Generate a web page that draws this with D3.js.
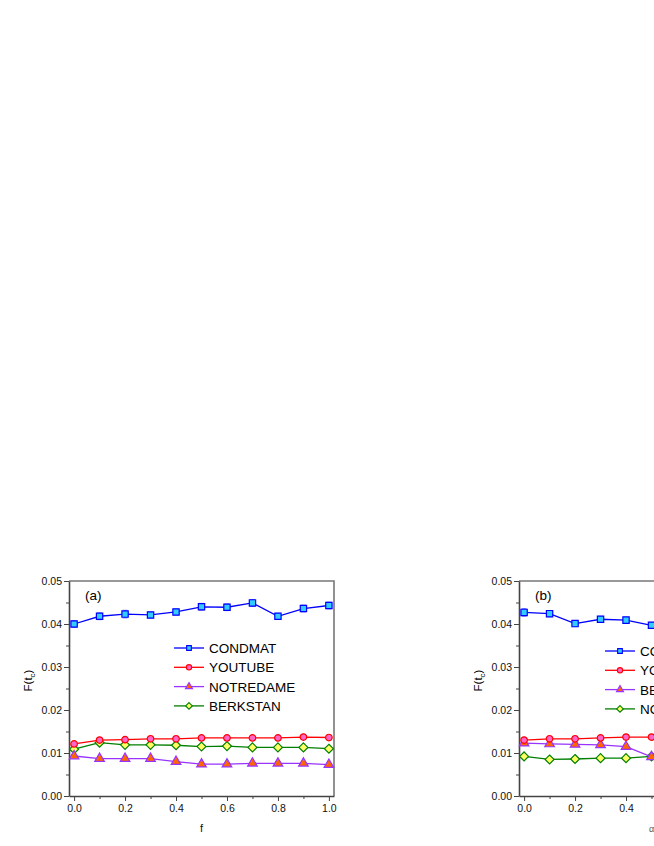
<!DOCTYPE html>
<html>
<head>
<meta charset="utf-8">
<script src="https://cdn.jsdelivr.net/npm/d3@7"></script>
<style>
  body { margin: 0; background: #fff; overflow: hidden; }
  text { font-family: "Liberation Sans", Arial, sans-serif; }
</style>
</head>
<body>
<div id="Area"></div>
<script>
// x values shared by both panels
var xs = [0.0, 0.1, 0.2, 0.3, 0.4, 0.5, 0.6, 0.7, 0.8, 0.9, 1.0];
var yTicks = [0.00, 0.01, 0.02, 0.03, 0.04, 0.05];
var xTicks = [0.0, 0.2, 0.4, 0.6, 0.8, 1.0];

// panel (a): against f
var aCondmat   = [0.0400, 0.0418, 0.0423, 0.0421, 0.0428, 0.0440, 0.0439, 0.0449, 0.0418, 0.0436, 0.0443];
var aYoutube   = [0.0121, 0.0130, 0.0131, 0.0133, 0.0133, 0.0135, 0.0135, 0.0135, 0.0135, 0.0137, 0.0136];
var aNotredame = [0.0093, 0.0087, 0.0087, 0.0087, 0.0080, 0.0074, 0.0074, 0.0076, 0.0076, 0.0076, 0.0073];
var aBerkstan  = [0.0109, 0.0124, 0.0119, 0.0119, 0.0118, 0.0115, 0.0116, 0.0113, 0.0113, 0.0113, 0.0110];
var aCondmatErr = [0.0008, 0.0008, 0.0009, 0.0007, 0.0007, 0.0008, 0.0008, 0.0008, 0.0007, 0.0008, 0.0008];

// panel (b): against alpha (right part is outside the picture)
var bCondmat   = [0.0427, 0.0424, 0.0401, 0.0411, 0.0409, 0.0397, 0.0402, 0.0405, 0.0400, 0.0404, 0.0406];
var bYoutube   = [0.0130, 0.0133, 0.0133, 0.0135, 0.0137, 0.0137, 0.0138, 0.0138, 0.0138, 0.0139, 0.0139];
var bBerkstan  = [0.0123, 0.0121, 0.0120, 0.0119, 0.0115, 0.0091, 0.0090, 0.0090, 0.0089, 0.0089, 0.0088];
var bNotredame = [0.0092, 0.0085, 0.0086, 0.0088, 0.0088, 0.0092, 0.0093, 0.0093, 0.0094, 0.0094, 0.0095];
var bCondmatErr = [0.0009, 0.0007, 0.0007, 0.0007, 0.0007, 0.0007, 0.0007, 0.0007, 0.0007, 0.0007, 0.0007];
var smallErr = 0.0003;

// diamond as a square turned by 45 degrees
var squareDiamond = {
  draw: function (ctx, size) {
    var r = Math.sqrt(size / 2);
    ctx.moveTo(0, -r); ctx.lineTo(r, 0); ctx.lineTo(0, r); ctx.lineTo(-r, 0); ctx.closePath();
  }
};

var styles = {
  blue:   { stroke: "#0000ff", fill: "#33ccff", shape: d3.symbolSquare },
  red:    { stroke: "#ff0000", fill: "#ff66cc", shape: d3.symbolCircle },
  purple: { stroke: "#9933ff", fill: "#ff6600", shape: d3.symbolTriangle },
  green:  { stroke: "#008000", fill: "#ffff66", shape: squareDiamond }
};

var panels = [
  { tag: "(a)", xlab: "f", left: 69, legendX: 105, legendY: 648, series: [
      { name: "CONDMAT", v: aCondmat, err: aCondmatErr, st: styles.blue },
      { name: "YOUTUBE", v: aYoutube, st: styles.red },
      { name: "NOTREDAME", v: aNotredame, st: styles.purple },
      { name: "BERKSTAN", v: aBerkstan, st: styles.green }] },
  { tag: "(b)", xlab: "\u03b1", left: 519, legendX: 86, legendY: 651, series: [
      { name: "CONDMAT", v: bCondmat, err: bCondmatErr, st: styles.blue },
      { name: "YOUTUBE", v: bYoutube, st: styles.red },
      { name: "BERKSTAN", v: bBerkstan, st: styles.purple },
      { name: "NOTREDAME", v: bNotredame, st: styles.green }] }
];

var width = 265, height = 215, top0 = 581;

var svg = d3.select("#Area").append("svg")
  .attr("width", 1000)
  .attr("height", 846);

panels.forEach(function (p) {
  var g = svg.append("g")
    .attr("transform", "translate(" + p.left + "," + top0 + ")");

  var x = d3.scaleLinear().domain([-0.02, 1.02]).range([0, width]);
  var y = d3.scaleLinear().domain([0, 0.05]).range([height, 0]);

  // frame: top and right
  g.append("path")
    .attr("d", "M0,0H" + width + "V" + height)
    .attr("fill", "none").attr("stroke", "#777").attr("stroke-width", 1.6);

  // minor ticks
  g.append("g")
    .call(d3.axisLeft(y).tickValues(d3.range(0.005, 0.05, 0.01)).tickSize(3).tickFormat(""))
    .call(function (a) { a.select(".domain").remove(); a.selectAll("line").attr("stroke", "#444"); });
  g.append("g")
    .attr("transform", "translate(0," + height + ")")
    .call(d3.axisBottom(x).tickValues(d3.range(0.1, 1, 0.2)).tickSize(3).tickFormat(""))
    .call(function (a) { a.select(".domain").remove(); a.selectAll("line").attr("stroke", "#444"); });

  // major axes
  var ya = g.append("g")
    .call(d3.axisLeft(y).tickValues(yTicks).tickSize(5).tickSizeOuter(0).tickPadding(2).tickFormat(d3.format(".2f")));
  var xa = g.append("g")
    .attr("transform", "translate(0," + height + ")")
    .call(d3.axisBottom(x).tickValues(xTicks).tickSize(5).tickSizeOuter(0).tickPadding(4).tickFormat(d3.format(".1f")));
  [ya, xa].forEach(function (a) {
    a.select(".domain").attr("stroke", "#444").attr("stroke-width", 1.6);
    a.selectAll("line").attr("stroke", "#444");
    a.selectAll("text").attr("font-size", 10.5).attr("fill", "#111")
      .attr("font-family", "Liberation Sans, Arial, sans-serif");
  });

  // labels
  g.append("text")
    .attr("transform", "translate(-37," + (height / 2 - 8) + ")rotate(-90)")
    .attr("text-anchor", "middle").attr("font-size", 11.5)
    .html("F(t<tspan font-size='8' dy='3'>c</tspan><tspan dy='-3'>)</tspan>");
  g.append("text")
    .attr("x", width / 2).attr("y", height + 36)
    .attr("text-anchor", "middle").attr("font-size", p.tag == "(a)" ? 11 : 9)
    .attr("fill", p.tag == "(a)" ? "#111" : "#555")
    .text(p.xlab);
  g.append("text")
    .attr("x", 16).attr("y", 19)
    .attr("font-size", 13.5)
    .text(p.tag);

  var line = d3.line()
    .x(function (d, i) { return x(xs[i]); })
    .y(function (d) { return y(d); });

  // series drawn from last to first so CONDMAT/YOUTUBE sit on top
  p.series.slice().reverse().forEach(function (s) {
    var gs = g.append("g");
    // error bars
    xs.forEach(function (xv, i) {
      var e = s.err ? s.err[i] : smallErr;
      var cx = x(xv);
      gs.append("path")
        .attr("d", "M" + cx + "," + y(s.v[i] - e) + "V" + y(s.v[i] + e) +
          "M" + (cx - 2.5) + "," + y(s.v[i] - e) + "h5" +
          "M" + (cx - 2.5) + "," + y(s.v[i] + e) + "h5")
        .attr("stroke", s.st.stroke).attr("stroke-opacity", 0.45)
        .attr("stroke-width", 1).attr("fill", "none");
    });
    gs.append("path")
      .datum(s.v)
      .attr("d", line)
      .attr("fill", "none")
      .attr("stroke", s.st.stroke)
      .attr("stroke-width", 1.3);
    gs.selectAll(".mk")
      .data(s.v)
      .enter()
      .append("path")
      .attr("transform", function (d, i) { return "translate(" + x(xs[i]) + "," + y(d) + ")"; })
      .attr("d", d3.symbol().type(s.st.shape).size(s.st.shape == d3.symbolCircle ? 34 : 40))
      .attr("fill", s.st.fill)
      .attr("stroke", s.st.stroke)
      .attr("stroke-width", 1.2);
  });

  // legend
  var lg = g.append("g").attr("transform", "translate(" + p.legendX + "," + (p.legendY - top0) + ")");
  p.series.forEach(function (s, i) {
    var row = lg.append("g").attr("transform", "translate(0," + (i * 19.3) + ")");
    row.append("line")
      .attr("x1", 0).attr("x2", 30)
      .attr("stroke", s.st.stroke).attr("stroke-width", 1.3);
    row.append("path")
      .attr("transform", "translate(15,0)")
      .attr("d", d3.symbol().type(s.st.shape).size(22))
      .attr("fill", s.st.fill).attr("stroke", s.st.stroke).attr("stroke-width", 1.1);
    row.append("text")
      .attr("x", 35).attr("y", 5)
      .attr("font-size", 13.5)
      .text(s.name);
  });
});
</script>
</body>
</html>
